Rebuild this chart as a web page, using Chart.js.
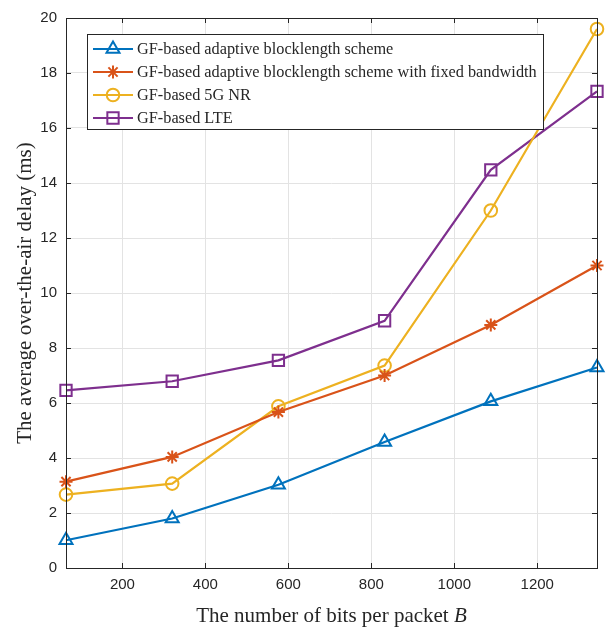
<!DOCTYPE html>
<html>
<head>
<meta charset="utf-8">
<script src="https://cdn.jsdelivr.net/npm/chart.js@4.4.0/dist/chart.umd.min.js"></script>
<style>
    html, body { margin: 0; padding: 0; background: #fff; }
    #wrap { width: 607px; height: 628px; }
</style>
</head>
<body>
<div id="wrap"><canvas id="chart" width="607" height="628"></canvas></div>
<script>
const bits = [64, 320, 576, 832, 1088, 1344];
const adaptive = [1.01, 1.8, 3.03, 4.58, 6.06, 7.29];
const adaptiveFixedBw = [3.14, 4.04, 5.67, 7.0, 8.84, 11.0];
const nr5g = [2.67, 3.07, 5.88, 7.36, 13.0, 19.6];
const lte = [6.46, 6.79, 7.55, 8.99, 14.48, 17.33];
const xTicks = [200, 400, 600, 800, 1000, 1200];

const labels = [
    'GF-based adaptive blocklength scheme',
    'GF-based adaptive blocklength scheme with fixed bandwidth',
    'GF-based 5G NR',
    'GF-based LTE',
];
const colors = ['#0072BD', '#D95319', '#EDB120', '#7E2F8E'];
const styles = ['triangle', 'star', 'circle', 'rect'];
const radii = [7.5, 6.5, 6.3, 8];
const series = [adaptive, adaptiveFixedBw, nr5g, lte];

const serif = '"Liberation Serif", "Times New Roman", serif';
const sans = '"Liberation Sans", Arial, sans-serif';
const tickColor = '#262626';

function makeDataset(i) {
    return {
        label: labels[i],
        data: bits.map((b, j) => ({ x: b, y: series[i][j] })),
        borderColor: colors[i],
        backgroundColor: 'rgba(0,0,0,0)',
        pointBorderColor: colors[i],
        pointBackgroundColor: 'rgba(0,0,0,0)',
        pointStyle: styles[i],
        pointRadius: radii[i],
        pointBorderWidth: 2,
        borderWidth: 2.2,
        clip: false,
    };
}

const frame = {
    id: 'frame',
    afterDatasetsDraw(chart) {
        const { ctx, chartArea: a, scales } = chart;
        ctx.save();

        // inward ticks on all four sides
        ctx.strokeStyle = tickColor;
        ctx.lineWidth = 1;
        ctx.beginPath();
        xTicks.forEach(v => {
            const x = Math.round(scales.x.getPixelForValue(v)) + 0.5;
            ctx.moveTo(x, a.bottom); ctx.lineTo(x, a.bottom - 5);
            ctx.moveTo(x, a.top); ctx.lineTo(x, a.top + 5);
        });
        for (let v = 0; v <= 20; v += 2) {
            const y = Math.round(scales.y.getPixelForValue(v)) + 0.5;
            ctx.moveTo(a.left, y); ctx.lineTo(a.left + 5, y);
            ctx.moveTo(a.right, y); ctx.lineTo(a.right - 5, y);
        }
        ctx.stroke();

        // axes box
        ctx.strokeRect(Math.round(a.left) + 0.5, Math.round(a.top) + 0.5,
            Math.round(a.right - a.left), Math.round(a.bottom - a.top));

        // legend
        const lx = 87, ly = 34, lw = 456, lh = 95;
        ctx.fillStyle = '#fff';
        ctx.fillRect(lx, ly, lw, lh);
        ctx.strokeStyle = '#262626';
        ctx.strokeRect(lx + 0.5, ly + 0.5, lw, lh);
        ctx.font = '16.3px ' + serif;
        ctx.textBaseline = 'middle';
        chart.data.datasets.forEach((ds, i) => {
            const y = 49 + i * 23;
            ctx.strokeStyle = ds.borderColor;
            ctx.lineWidth = 2.2;
            ctx.beginPath();
            ctx.moveTo(93, y); ctx.lineTo(133, y);
            ctx.stroke();
            ctx.fillStyle = 'rgba(0,0,0,0)';
            ctx.lineWidth = 2;
            Chart.helpers.drawPoint(ctx, {
                pointStyle: ds.pointStyle,
                radius: ds.pointRadius,
                borderWidth: 2,
                rotation: 0,
            }, 113, y);
            ctx.fillStyle = '#262626';
            ctx.fillText(ds.label, 137, y + 1);
        });

        // axis titles
        ctx.fillStyle = '#262626';
        ctx.textBaseline = 'alphabetic';
        const main = 'The number of bits per packet ';
        ctx.font = '21px ' + serif;
        const w1 = ctx.measureText(main).width;
        ctx.font = 'italic 21px ' + serif;
        const w2 = ctx.measureText('B').width;
        const cx = (a.left + a.right) / 2;
        const sx = cx - (w1 + w2) / 2;
        ctx.textAlign = 'left';
        ctx.font = '21px ' + serif;
        ctx.fillText(main, sx, 622);
        ctx.font = 'italic 21px ' + serif;
        ctx.fillText('B', sx + w1, 622);

        ctx.translate(31, (a.top + a.bottom) / 2);
        ctx.rotate(-Math.PI / 2);
        ctx.textAlign = 'center';
        ctx.font = '21px ' + serif;
        ctx.fillText('The average over-the-air delay (ms)', 0, 0);
        ctx.restore();
    },
};

new Chart(document.getElementById('chart'), {
    type: 'line',
    data: { datasets: [0, 1, 2, 3].map(makeDataset) },
    options: {
        responsive: false,
        animation: false,
        layout: { padding: { top: 14, right: 10, left: 0, bottom: 0 } },
        plugins: {
            legend: { display: false },
            tooltip: { enabled: false },
        },
        scales: {
            x: {
                type: 'linear',
                min: 64,
                max: 1344,
                afterBuildTicks: s => { s.ticks = xTicks.map(v => ({ value: v })); },
                afterFit: s => { s.height = 60; },
                grid: { color: '#e3e3e3', drawTicks: false },
                border: { display: false },
                ticks: {
                    color: tickColor,
                    font: { family: sans, size: 15 },
                    padding: 8,
                    maxRotation: 0,
                    callback: v => String(v),
                },
            },
            y: {
                min: 0,
                max: 20,
                afterFit: s => { s.width = 66; },
                grid: { color: '#e3e3e3', drawTicks: false },
                border: { display: false },
                ticks: { stepSize: 2, color: tickColor, font: { family: sans, size: 15 }, padding: 9 },
            },
        },
    },
    plugins: [frame],
});
</script>
</body>
</html>
